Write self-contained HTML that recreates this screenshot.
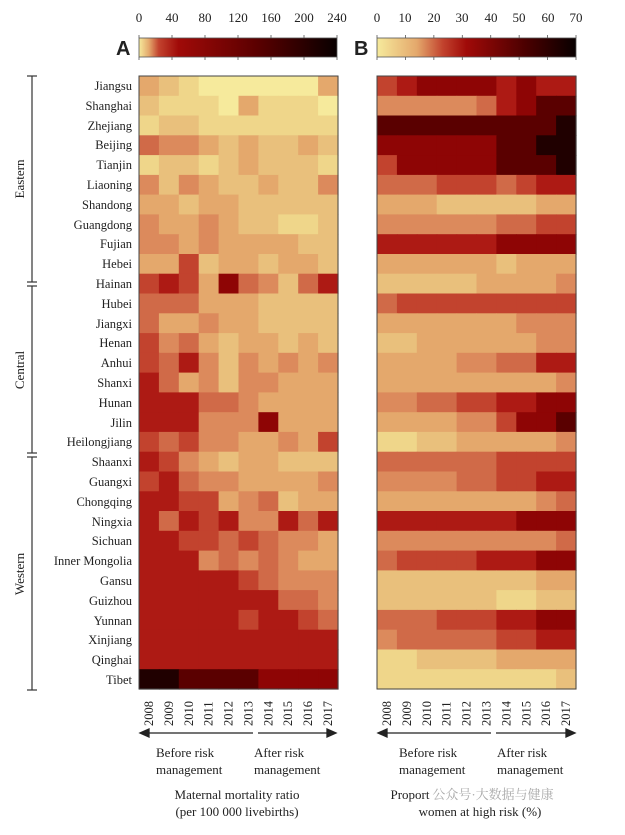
<!DOCTYPE html>
<html><head><meta charset="utf-8"><style>
html,body{margin:0;padding:0;background:#fff;}
svg{display:block;}
text{font-family:"Liberation Serif","Noto Serif CJK SC",serif;fill:#222;}
</style></head><body>
<svg id="s" width="625" height="835" xmlns="http://www.w3.org/2000/svg">
<defs>
<linearGradient id="ga" x1="0" x2="1">
<stop offset="0" stop-color="#f6ea9c"/><stop offset="0.05" stop-color="#e4a86c"/><stop offset="0.1" stop-color="#c2432e"/><stop offset="0.2" stop-color="#a00a08"/><stop offset="0.6" stop-color="#5a0000"/><stop offset="1" stop-color="#080000"/>
</linearGradient>
<linearGradient id="gb" x1="0" x2="1">
<stop offset="0" stop-color="#f6ea9c"/><stop offset="0.2" stop-color="#e4a86c"/><stop offset="0.33" stop-color="#c2432e"/><stop offset="0.45" stop-color="#a00a08"/><stop offset="0.75" stop-color="#4a0000"/><stop offset="1" stop-color="#080000"/>
</linearGradient>
</defs>
<g font-size="13" text-anchor="middle">
<text x="139" y="22">0</text><text x="172" y="22">40</text><text x="205" y="22">80</text><text x="238" y="22">120</text><text x="271" y="22">160</text><text x="304" y="22">200</text><text x="337" y="22">240</text>
<text x="377" y="22">0</text><text x="405" y="22">10</text><text x="434" y="22">20</text><text x="462" y="22">30</text><text x="491" y="22">40</text><text x="519" y="22">50</text><text x="548" y="22">60</text><text x="576" y="22">70</text>
</g>
<rect x="139" y="38" width="198" height="19" fill="url(#ga)" stroke="#555" stroke-width="0.8"/>
<rect x="377" y="38" width="199" height="19" fill="url(#gb)" stroke="#555" stroke-width="0.8"/>
<text x="116" y="55" font-size="20" font-weight="bold" style="font-family:'Liberation Sans',sans-serif">A</text>
<text x="354" y="55" font-size="20" font-weight="bold" style="font-family:'Liberation Sans',sans-serif">B</text>
<g id="ticks" stroke="#555" stroke-width="0.8"></g>
<g id="cells"></g>
<rect x="139" y="76" width="199" height="613" fill="none" stroke="#444"/>
<rect x="377" y="76" width="199" height="613" fill="none" stroke="#444"/>
<g font-size="12.5" text-anchor="end">
<text x="132" y="90">Jiangsu</text><text x="132" y="110">Shanghai</text><text x="132" y="130">Zhejiang</text><text x="132" y="149">Beijing</text><text x="132" y="169">Tianjin</text><text x="132" y="189">Liaoning</text><text x="132" y="209">Shandong</text><text x="132" y="229">Guangdong</text><text x="132" y="248">Fujian</text><text x="132" y="268">Hebei</text><text x="132" y="288">Hainan</text><text x="132" y="308">Hubei</text><text x="132" y="328">Jiangxi</text><text x="132" y="347">Henan</text><text x="132" y="367">Anhui</text><text x="132" y="387">Shanxi</text><text x="132" y="407">Hunan</text><text x="132" y="427">Jilin</text><text x="132" y="446">Heilongjiang</text><text x="132" y="466">Shaanxi</text><text x="132" y="486">Guangxi</text><text x="132" y="506">Chongqing</text><text x="132" y="526">Ningxia</text><text x="132" y="545">Sichuan</text><text x="132" y="565">Inner Mongolia</text><text x="132" y="585">Gansu</text><text x="132" y="605">Guizhou</text><text x="132" y="625">Yunnan</text><text x="132" y="644">Xinjiang</text><text x="132" y="664">Qinghai</text><text x="132" y="684">Tibet</text>
</g>
<g stroke="#333" stroke-width="1.2">
<line x1="32" y1="76" x2="32" y2="282"/><line x1="27" y1="76" x2="37" y2="76"/><line x1="27" y1="282" x2="37" y2="282"/>
<line x1="32" y1="286" x2="32" y2="453"/><line x1="27" y1="286" x2="37" y2="286"/><line x1="27" y1="453" x2="37" y2="453"/>
<line x1="32" y1="457" x2="32" y2="690"/><line x1="27" y1="457" x2="37" y2="457"/><line x1="27" y1="690" x2="37" y2="690"/>
</g>
<g font-size="13" text-anchor="middle">
<text transform="translate(24,179) rotate(-90)">Eastern</text>
<text transform="translate(24,370) rotate(-90)">Central</text>
<text transform="translate(24,574) rotate(-90)">Western</text>
</g>
<g id="years" font-size="12.5"></g>
<g stroke="#222" stroke-width="1.3" fill="#222">
<line x1="146" y1="733" x2="253" y2="733"/><polygon points="140,733 149,729 149,737"/>
<line x1="258" y1="733" x2="330" y2="733"/><polygon points="336,733 327,729 327,737"/>
<line x1="384" y1="733" x2="491" y2="733"/><polygon points="378,733 387,729 387,737"/>
<line x1="496" y1="733" x2="569" y2="733"/><polygon points="575,733 566,729 566,737"/>
</g>
<g font-size="13">
<text x="156" y="757">Before risk</text><text x="156" y="774">management</text>
<text x="254" y="757">After risk</text><text x="254" y="774">management</text>
<text x="399" y="757">Before risk</text><text x="399" y="774">management</text>
<text x="497" y="757">After risk</text><text x="497" y="774">management</text>
</g>
<g font-size="13" text-anchor="middle">
<text x="237" y="799">Maternal mortality ratio</text>
<text x="237" y="816">(per 100 000 livebirths)</text>
<text x="410" y="799">Proport</text>
<text x="493" y="799" fill="#999" style="fill:#aaa">公众号·大数据与健康</text>
<text x="480" y="816">women at high risk (%)</text>
</g>
</svg>
<script>
var P=["#f6ea9c","#efd68a","#e9c07c","#e4a86c","#dc8a5c","#d06a48","#c2432e","#ad1a14","#8e0505","#5a0000","#200000"];
var A=["3210000003","2111031110","1221111111","5443232232","1221232221","4243223224","3323322222","4334322112","4434333322","3362332332","6763854257","5553332222","5334332222","6453233232","6574243434","7534244333","7775543333","7774448333","6564433436","7643233222","6754433334","7766345233","7576744757","7766565443","7774545433","7777765444","7777777554","7777767765","7777777777","7777777777","aa99998888"];
var B=["6788887877","4444457899","999999999a","88888899aa","688888999a","5556665677","3332222233","4444445566","7777778888","3333332333","2222233334","5666666666","3333333444","2233333344","3333445577","3333333334","4455667788","3333446889","1122333334","5555556666","4444556677","3333333345","7777777888","4444444445","5666677788","2222222233","2222221122","5556667788","4555556677","1122223333","1111111112"];
var s="",cw=19.9,rh=613/31;
function draw(M,x0){for(var r=0;r<31;r++)for(var c=0;c<10;c++){var v=parseInt(M[r][c],16);s+='<rect x="'+(x0+c*cw).toFixed(1)+'" y="'+(76+r*rh).toFixed(1)+'" width="'+(cw+0.6).toFixed(1)+'" height="'+(rh+0.6).toFixed(1)+'" fill="'+P[v]+'"/>';}}
draw(A,139);draw(B,377);
document.getElementById("cells").innerHTML=s;
var t="";
for(var i=0;i<7;i++){var x=139+i*33;t+='<line x1="'+x+'" y1="35" x2="'+x+'" y2="38"/><line x1="'+x+'" y1="57" x2="'+x+'" y2="60"/>';}
for(var i=0;i<8;i++){var x=377+i*28.43;t+='<line x1="'+x+'" y1="35" x2="'+x+'" y2="38"/><line x1="'+x+'" y1="57" x2="'+x+'" y2="60"/>';}
document.getElementById("ticks").innerHTML=t;
var y="";
for(var c=0;c<10;c++){[139,377].forEach(function(x0){var x=x0+c*cw+cw/2+4;y+='<text transform="translate('+x.toFixed(1)+',726) rotate(-90)">'+(2008+c)+'</text>';});}
document.getElementById("years").innerHTML=y;
</script>
</body></html>
